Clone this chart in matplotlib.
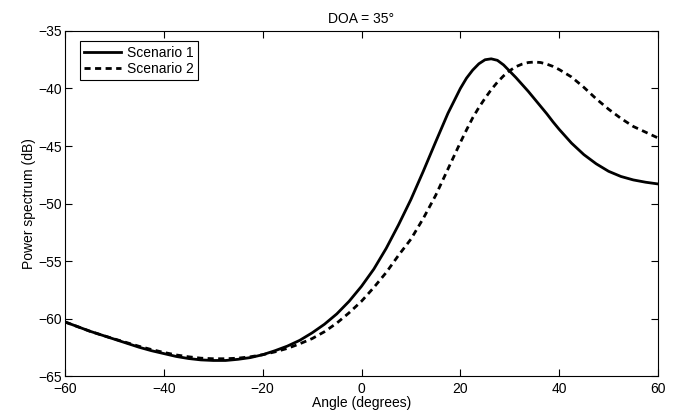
import matplotlib
matplotlib.use("Agg")
import matplotlib.pyplot as plt

angles = [-60, -57.5, -55, -52.5, -50, -47.5, -45, -42.5, -40, -37.5, -35, -32.5, -30, -27.5,
          -25, -22.5, -20, -17.5, -15, -12.5, -10, -7.5, -5, -2.5, 0, 2.5, 5, 7.5, 10, 12.5,
          15, 17.5, 20, 21.25, 22.5, 23.75, 25, 26.25, 27.5, 28.75, 30, 31.25, 32.5, 33.75,
          35, 36.25, 37.5, 38.75, 40, 42.5, 45, 47.5, 50, 52.5, 55, 57.5, 60]

scenario1 = [-60.3, -60.7, -61.1, -61.45, -61.8, -62.15, -62.5, -62.8, -63.05, -63.3, -63.48,
             -63.6, -63.65, -63.65, -63.55, -63.4, -63.15, -62.8, -62.4, -61.9, -61.25, -60.5,
             -59.6, -58.5, -57.2, -55.7, -53.9, -51.85, -49.65, -47.2, -44.65, -42.15, -40.0,
             -39.1, -38.4, -37.85, -37.5, -37.42, -37.55, -37.95, -38.5, -39.05, -39.65, -40.25,
             -40.9, -41.55, -42.2, -42.9, -43.55, -44.75, -45.75, -46.55, -47.2, -47.65, -47.95,
             -48.15, -48.3]

scenario2 = [-60.3, -60.7, -61.1, -61.45, -61.78, -62.1, -62.42, -62.7, -62.95, -63.17, -63.33,
             -63.45, -63.5, -63.5, -63.45, -63.33, -63.15, -62.9, -62.6, -62.2, -61.75, -61.15,
             -60.4, -59.5, -58.5, -57.3, -56.0, -54.5, -53.1, -51.3, -49.3, -47.0, -44.7,
             -43.6, -42.55, -41.65, -40.85, -40.1, -39.45, -38.9, -38.45, -38.1, -37.88, -37.74,
             -37.7, -37.74, -37.88, -38.08, -38.35, -39.0, -39.9, -40.9, -41.8, -42.6, -43.3,
             -43.8, -44.3]

xticks = [-60, -40, -20, 0, 20, 40, 60]
yticks = [-65, -60, -55, -50, -45, -40, -35]

plt.rcParams['font.family'] = ['Liberation Sans', 'DejaVu Sans']
plt.rcParams['font.size'] = 10

fig = plt.figure(figsize=(6.94, 4.19), dpi=100)
ax = fig.add_axes([65/694, 1-376/419, (658-65)/694, (376-31)/419])

ax.plot(angles, scenario1, color='black', linewidth=2.0, linestyle='-', label='Scenario 1')
ax.plot(angles, scenario2, color='black', linewidth=2.0, linestyle=(0, (2.2, 1.6)), label='Scenario 2')

ax.set_xlim(-60, 60)
ax.set_ylim(-65, -35)
ax.set_xticks(xticks)
ax.set_yticks(yticks)
ax.set_xticklabels([str(t).replace('-', '\u2212') for t in xticks])
ax.set_yticklabels([str(t).replace('-', '\u2212') for t in yticks])
ax.tick_params(direction='in', top=True, right=True, length=5, width=0.8)
ax.tick_params(axis='x', pad=4)
ax.tick_params(axis='y', pad=2)
for s in ax.spines.values():
    s.set_linewidth(0.8)

ax.set_xlabel('Angle (degrees)', labelpad=0)
ax.set_ylabel('Power spectrum (dB)', labelpad=2)
ax.set_title('DOA = 35\u00b0', fontsize=10, pad=6)

leg = ax.legend(loc='upper left', bbox_to_anchor=(0.025, 0.97), frameon=True, fancybox=False,
                edgecolor='black', framealpha=1, handlelength=2.7, handletextpad=0.4,
                borderpad=0.3, labelspacing=0.2, borderaxespad=0)
leg.get_frame().set_linewidth(0.8)

fig.savefig('out.png', dpi=100)
